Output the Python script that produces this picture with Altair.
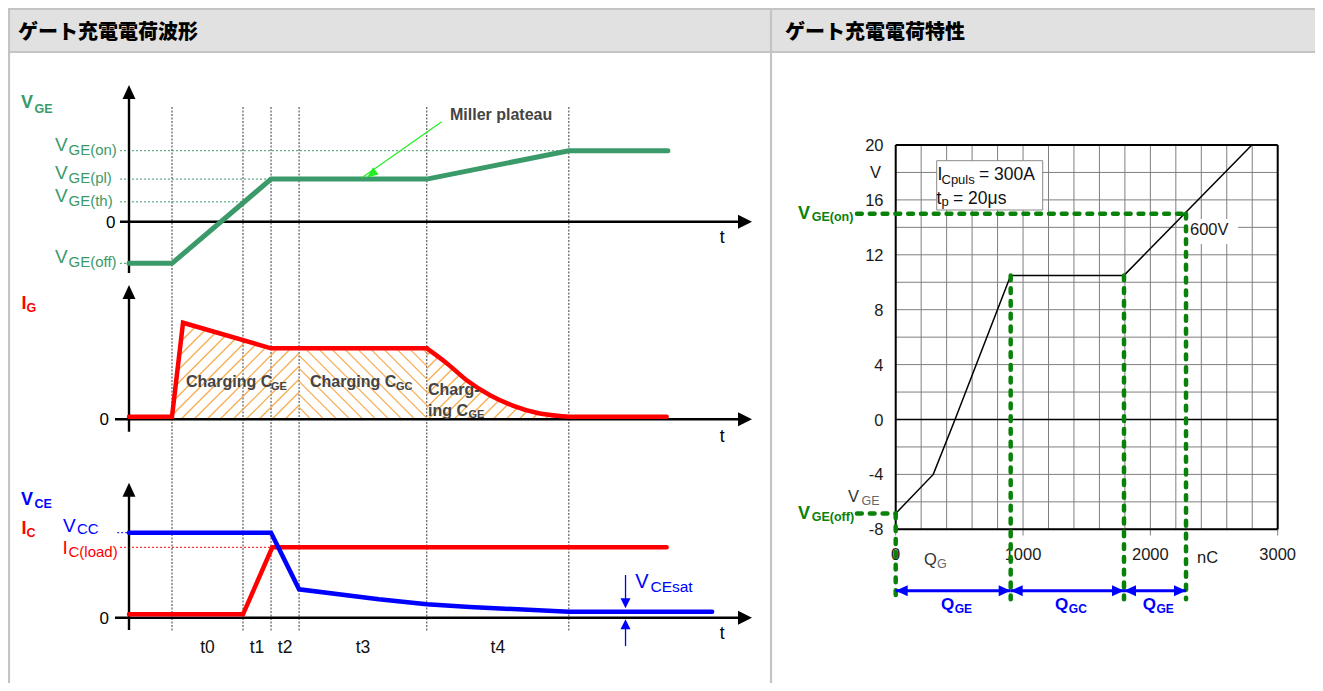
import math
import altair as alt
import numpy as np
import pandas as pd

# ---------------------------------------------------------------- data
TITLES = ["ゲート充電電荷波形", "ゲート充電電荷特性"]

# left: switching waveforms, time in arbitrary units (0 = origin, 100 = arrow tip)
T_MARKS = [6.9, 18.3, 22.8, 27.3, 47.8, 70.6]
T_NAMES = ["t0", "t1", "t2", "t3", "t4"]

VGE_LEVEL_NAMES = ["GE(on)", "GE(pl)", "GE(th)", "GE(off)"]
VGE_LEVEL_VALUES = [15.0, 9.0, 4.2, -8.8]
VGE_LEVEL_END_T = [70.6, 22.8, 18.3, 0.0]

VGE_T = [0, 6.9, 22.8, 47.8, 70.6, 86.5]
VGE_V = [-8.8, -8.8, 9.0, 9.0, 15.0, 15.0]

IG_T = [0, 6.9, 8.67, 22.8, 47.8]
IG_V = [0.035, 0.035, 1.36, 1.0, 1.0]
IG_DECAY_T = [47.8, 51.0, 54.2, 57.95, 61.7, 65.4, 69.2, 70.5, 86.3]
IG_DECAY_V = [1.0, 0.79, 0.55, 0.34, 0.19, 0.093, 0.046, 0.037, 0.037]
CHARGE_REGIONS = [(6.9, 27.3, 1), (27.3, 47.8, -1), (47.8, 70.5, 1)]

VCE_T = [0, 22.8, 27.3, 40.1, 47.8, 54.7, 61.6, 70.6, 93.6]
VCE_V = [1.0, 1.0, 0.334, 0.216, 0.158, 0.126, 0.102, 0.071, 0.071]
IC_T = [0, 18.3, 23.0, 86.3]
IC_V = [0.04, 0.04, 0.828, 0.828]
VCC_LEVEL = 1.0
IC_LOAD = 0.828
VCESAT_T = 79.7

# right: gate charge characteristic
Q_GRID = list(range(0, 3001, 200))
V_GRID = list(range(-8, 21, 2))
Q_TICKS = [0, 1000, 2000, 3000]
V_TICKS = [20, 16, 12, 8, 4, 0, -4, -8]
CURVE_Q = [0, 295, 466, 903, 1793, 2797]
CURVE_V = [-6.85, -4.0, 0.0, 10.5, 10.5, 20.0]
VGE_ON = 15.0
VGE_OFF = -6.85
Q_BOUNDS = [0, 903, 1793, 2280]
Q_BOUND_TOP = [VGE_OFF, 10.5, 10.5, VGE_ON]
Q_SEG_NAMES = ["GE", "GC", "GE"]

# ---------------------------------------------------------------- layout
M = 8
W, H = 1307, 675
SANS = "Liberation Sans"
CJK = "Noto Sans CJK JP"
GREEN = "#3b9a69"
DKGREEN = "#0a820a"
RED = "#ff0000"
BLUE = "#0000ff"
GRAYTXT = "#444444"
HATCH = "#f6a33f"


def sc(d0, d1, p0, p1):
    return alt.Scale(domain=[d0, d1], range=[p0 - M, p1 - M], nice=False, zero=False)


PX = sc(0, 1323, 0, 1323)
PY = sc(0, 691, 0, 691)
TX = sc(0, 100, 129, 752)
Y_VGE = sc(0, 15, 221.7, 150.7)
Y_IG = sc(0, 1, 419.3, 348.3)
Y_VCE = sc(0, 1, 617.7, 532.7)
QX = sc(0, 3000, 895.7, 1277.7)
VY = sc(-8, 20, 529.3, 145)
PX_PER_T = (752 - 129) / 100
PX_PER_IG = 419.3 - 348.3


def X(f, s):
    return alt.X(f, type="quantitative", scale=s, axis=None)


def Y(f, s):
    return alt.Y(f, type="quantitative", scale=s, axis=None)


def segs(x, y, x2, y2, xs, ys, **mk):
    df = pd.DataFrame({"x": x, "y": y, "x2": x2, "y2": y2})
    return alt.Chart(df).mark_rule(**mk).encode(
        x=X("x", xs), y=Y("y", ys), x2=alt.X2("x2"), y2=alt.Y2("y2"))


def rect(x, x2, y, y2, xs, ys, **mk):
    df = pd.DataFrame({"x": x, "y": y, "x2": x2, "y2": y2})
    return alt.Chart(df).mark_rect(**mk).encode(
        x=X("x", xs), y=Y("y", ys), x2=alt.X2("x2"), y2=alt.Y2("y2"))


def poly(x, y, xs, ys, **mk):
    df = pd.DataFrame({"x": x, "y": y, "i": list(range(len(x)))})
    return alt.Chart(df).mark_line(**mk).encode(
        x=X("x", xs), y=Y("y", ys), order=alt.Order("i:Q"))


def heads(x, y, xs, ys, angle, length, color, half=0.46):
    df = pd.DataFrame({"x": x, "y": y})
    path = f"M0,0L{-half},1L{half},1Z"
    return alt.Chart(df).mark_point(
        shape=path, filled=True, size=(2 * length) ** 2, angle=angle,
        color=color, opacity=1, strokeWidth=0).encode(x=X("x", xs), y=Y("y", ys))


def txt(x, y, s, xs, ys, **mk):
    base = dict(font=SANS, align="left", baseline="alphabetic")
    base.update(mk)
    df = pd.DataFrame({"x": x, "y": y, "s": s})
    return alt.Chart(df).mark_text(**base).encode(
        x=X("x", xs), y=Y("y", ys), text=alt.Text("s:N"))


def hatch_segments():
    t_all = IG_T + IG_DECAY_T[1:]
    v_all = IG_V + IG_DECAY_V[1:]
    rows = []
    spacing = 13.0
    for a, b, d in CHARGE_REGIONS:
        ua, ub = a * PX_PER_T, b * PX_PER_T
        u = np.arange(ua, ub + 0.01, 0.25)
        top = np.interp(u / PX_PER_T, t_all, v_all) * PX_PER_IG - 1.0
        hmax = top.max()
        if d > 0:
            cs = np.arange(math.floor((ua - hmax) / spacing) * spacing, ub, spacing)
        else:
            cs = np.arange(math.floor(ua / spacing) * spacing, ub + hmax + spacing, spacing)
        for c in cs:
            h = d * (u - c)
            ok = (h >= 0) & (h <= top)
            if ok.sum() < 3:
                continue
            idx = np.where(ok)[0]
            runs = np.split(idx, np.where(np.diff(idx) != 1)[0] + 1)
            r = max(runs, key=len)
            i0, i1 = r[0], r[-1]
            if i1 - i0 < 4:
                continue
            rows.append((u[i0] / PX_PER_T, h[i0] / PX_PER_IG, u[i1] / PX_PER_T, h[i1] / PX_PER_IG))
    return rows


L = []

# ---------------------------------------------------------------- frame / headers
L.append(rect([9], [1323], [9], [52], PX, PY, color="#e1e1e1"))
L.append(segs([0, 0, 9, 771], [9, 52, 9, 9], [1323, 1323, 9, 771], [9, 52, 691, 691], PX, PY,
              color="#c4c4c4", strokeWidth=2.2))
L.append(txt([18, 785], [38.5, 38.5], TITLES, PX, PY, font=CJK, fontSize=20, fontWeight=900, color="#000000"))

# ---------------------------------------------------------------- left panel
L.append(segs(T_MARKS, [107] * 6, T_MARKS, [632] * 6, TX, PY, color="#3c3c3c", strokeWidth=1,
              strokeDash=[2, 1.5]))
L.append(segs([-1.45] * 4, VGE_LEVEL_VALUES, VGE_LEVEL_END_T, VGE_LEVEL_VALUES, TX, Y_VGE,
              color=GREEN, strokeWidth=1, strokeDash=[2, 2]))
L.append(segs([-1.9], [VCC_LEVEL], [0], [VCC_LEVEL], TX, Y_VCE, color=BLUE, strokeWidth=1, strokeDash=[2, 2]))
L.append(segs([-1.45], [IC_LOAD], [22.8], [IC_LOAD], TX, Y_VCE, color=RED, strokeWidth=1, strokeDash=[2, 2]))

hs = hatch_segments()
L.append(segs([r[0] for r in hs], [r[1] for r in hs], [r[2] for r in hs], [r[3] for r in hs], TX, Y_IG,
              color=HATCH, strokeWidth=1.3, opacity=0.9))

for ysc, x0, ybot, yline, ytip in [(Y_VGE, -1.45, -10.84, 26.0, 28.88),
                                   (Y_IG, -2.25, -0.175, 1.75, 1.89),
                                   (Y_VCE, -2.25, -0.145, 1.45, 1.588)]:
    L.append(segs([x0, 0], [0, ybot], [98, 0], [0, yline], TX, ysc, color="#000000", strokeWidth=2.4))
    L.append(heads([0], [ytip], TX, ysc, 0, 14, "#000000"))
    L.append(heads([100], [0], TX, ysc, 90, 14, "#000000", half=0.5))

L.append(poly(VGE_T, VGE_V, TX, Y_VGE, color=GREEN, strokeWidth=5, strokeCap="round"))
L.append(poly(IG_T, IG_V, TX, Y_IG, color=RED, strokeWidth=4.5, strokeCap="round"))
L.append(poly(IG_DECAY_T, IG_DECAY_V, TX, Y_IG, color=RED, strokeWidth=4.5, strokeCap="round",
              interpolate="monotone"))
L.append(poly(IC_T, IC_V, TX, Y_VCE, color=RED, strokeWidth=4.5, strokeCap="round"))
L.append(poly(VCE_T, VCE_V, TX, Y_VCE, color=BLUE, strokeWidth=4.5, strokeCap="round"))

# Miller plateau arrow
sx, sy, tx_, ty_ = 441.7, 121.7, 367.0, 177.5
ang = (math.degrees(math.atan2(tx_ - sx, -(ty_ - sy))) + 360) % 360
L.append(segs([sx], [sy], [tx_ + 6 * math.sin(math.radians(ang))], [ty_ - 0], PX, PY,
              color="#22ee22", strokeWidth=1.2))
L.append(heads([tx_], [ty_], PX, PY, ang, 11, "#22ee22", half=0.42))
L.append(txt([450], [120], ["Miller plateau"], PX, PY, fontSize=16, fontWeight="bold", color=GRAYTXT))

# VCEsat marker
L.append(segs([VCESAT_T, VCESAT_T], [0.502, -0.333], [VCESAT_T, VCESAT_T], [0.2, -0.1], TX, Y_VCE,
              color=BLUE, strokeWidth=1.3))
L.append(heads([VCESAT_T], [0.111], TX, Y_VCE, 180, 10, BLUE, half=0.5))
L.append(heads([VCESAT_T], [-0.019], TX, Y_VCE, 0, 10, BLUE, half=0.5))

# left labels
L.append(txt([21], [108.3], ["V"], PX, PY, fontSize=18, fontWeight="bold", color=GREEN))
L.append(txt([34.5], [112.7], ["GE"], PX, PY, fontSize=12.5, fontWeight="bold", color=GREEN))
L.append(txt([55] * 4, VGE_LEVEL_VALUES, ["V"] * 4, PX, Y_VGE, fontSize=19, color=GREEN))
L.append(txt([68.5] * 4, VGE_LEVEL_VALUES, VGE_LEVEL_NAMES, PX, Y_VGE, fontSize=15, dy=4, color=GREEN))
L.append(txt([21.5], [309.3], ["I"], PX, PY, fontSize=18, fontWeight="bold", color=RED))
L.append(txt([26.5], [312], ["G"], PX, PY, fontSize=12.5, fontWeight="bold", color=RED))
L.append(txt([21], [505], ["V"], PX, PY, fontSize=18, fontWeight="bold", color=BLUE))
L.append(txt([34.5], [508], ["CE"], PX, PY, fontSize=12.5, fontWeight="bold", color=BLUE))
L.append(txt([21.5], [534], ["I"], PX, PY, fontSize=18, fontWeight="bold", color=RED))
L.append(txt([26.5], [536.5], ["C"], PX, PY, fontSize=12.5, fontWeight="bold", color=RED))
L.append(txt([63], [VCC_LEVEL], ["V"], PX, Y_VCE, fontSize=19, dy=-1, color=BLUE))
L.append(txt([77], [VCC_LEVEL], ["CC"], PX, Y_VCE, fontSize=15, dy=1.5, color=BLUE))
L.append(txt([62.5], [IC_LOAD], ["I"], PX, Y_VCE, fontSize=19, dy=6.5, color=RED))
L.append(txt([68.5], [IC_LOAD], ["C(load)"], PX, Y_VCE, fontSize=15, dy=9.5, color=RED))
L.append(txt([VCESAT_T + 1.55], [0.35], ["V"], TX, Y_VCE, fontSize=20, dy=0, color=BLUE))
L.append(txt([VCESAT_T + 4.0], [0.35], ["CEsat"], TX, Y_VCE, fontSize=15.5, dy=4.4, color=BLUE))
L.append(txt([115.5], [0], ["0"], PX, Y_VGE, fontSize=17, dy=6, align="right", color="#000000"))
L.append(txt([109], [0], ["0"], PX, Y_IG, fontSize=17, dy=6, align="right", color="#000000"))
L.append(txt([109], [0], ["0"], PX, Y_VCE, fontSize=17, dy=6, align="right", color="#000000"))
for ysc, dyy in [(Y_VGE, 21.5), (Y_IG, 22.3), (Y_VCE, 21)]:
    L.append(txt([95.2], [0], ["t"], TX, ysc, fontSize=17.5, dy=dyy, align="center", color="#000000"))
mids = [(T_MARKS[i] + T_MARKS[i + 1]) / 2 for i in range(5)]
L.append(txt(mids, [653] * 5, T_NAMES, TX, PY, fontSize=17.5, align="center", color="#111111"))
L.append(txt([186, 310, 428, 428], [387.3, 387.3, 395, 416], ["Charging C", "Charging C", "Charg-", "ing C"],
             PX, PY, fontSize=16, fontWeight="bold", color=GRAYTXT))
L.append(txt([271, 396, 468.5], [389.5, 389.5, 418], ["GE", "GC", "GE"], PX, PY,
             fontSize=11, fontWeight="bold", color=GRAYTXT))

# ---------------------------------------------------------------- right panel
L.append(segs(Q_GRID, [-8] * len(Q_GRID), Q_GRID, [20] * len(Q_GRID), QX, VY, color="#7f7f7f", strokeWidth=1))
L.append(segs([0] * len(V_GRID), V_GRID, [3000] * len(V_GRID), V_GRID, QX, VY, color="#7f7f7f", strokeWidth=1))
L.append(segs(Q_TICKS, [-8] * 4, Q_TICKS, [-8.45] * 4, QX, VY, color="#7f7f7f", strokeWidth=1))
L.append(rect([936.7], [1042.7], [160.7], [210], PX, PY, fill="#ffffff", stroke="#8a8a8a", strokeWidth=1))
L.append(rect([1187], [1238], [219], [244], PX, PY, fill="#ffffff"))
L.append(segs([0, 0, 0, 3000], [-8, 20, -8, -8], [3000, 3000, 0, 3000], [-8, 20, 20, 20], QX, VY,
              color="#000000", strokeWidth=2))
L.append(segs([0], [0], [3000], [0], QX, VY, color="#000000", strokeWidth=1.6))
L.append(poly(CURVE_Q, CURVE_V, QX, VY, color="#000000", strokeWidth=1.5))

L.append(txt([883.5] * len(V_TICKS), V_TICKS, [str(v) for v in V_TICKS], PX, VY, fontSize=16.5,
             align="right", dy=6, color="#1a1a1a"))
L.append(txt([881], [18], ["V"], PX, VY, fontSize=16.5, align="right", dy=6, color="#1a1a1a"))
L.append(txt(Q_TICKS, [560] * 4, [str(q) for q in Q_TICKS], QX, PY, fontSize=16.5, align="center",
             color="#1a1a1a"))
L.append(txt([2450], [562.5], ["nC"], QX, PY, fontSize=16.5, align="center", color="#1a1a1a"))
L.append(txt([924], [564.5], ["Q"], PX, PY, fontSize=16.5, color="#333333"))
L.append(txt([937], [568], ["G"], PX, PY, fontSize=12.5, color="#666666"))
L.append(txt([848], [501.7], ["V"], PX, PY, fontSize=16.5, color="#333333"))
L.append(txt([861.5], [504.5], ["GE"], PX, PY, fontSize=12.5, color="#666666"))
L.append(txt([937.5, 936.5], [180, 203.5], ["I", "t"], PX, PY, fontSize=17.5, color="#111111"))
L.append(txt([941.5, 941.5], [183.5, 205.5], ["Cpuls", "p"], PX, PY, fontSize=13, color="#111111"))
L.append(txt([979, 953], [180, 203.5], ["= 300A", "= 20μs"], PX, PY, fontSize=17.5, color="#111111"))
L.append(txt([1190], [235], ["600V"], PX, PY, fontSize=16.5, color="#1a1a1a"))

L.append(segs([-304, -304], [VGE_ON, VGE_OFF], [2280, 0], [VGE_ON, VGE_OFF], QX, VY,
              color=DKGREEN, strokeWidth=4.5, strokeDash=[4.8, 8], strokeCap="round"))
L.append(segs(Q_BOUNDS, Q_BOUND_TOP, Q_BOUNDS, [-13.1] * 4, QX, VY,
              color=DKGREEN, strokeWidth=4.5, strokeDash=[4.8, 8], strokeCap="round"))
L.append(txt([798, 798], [VGE_ON, VGE_OFF], ["V", "V"], PX, VY, fontSize=18, fontWeight="bold", dy=5,
             color=DKGREEN))
L.append(txt([811.7, 811.7], [VGE_ON, VGE_OFF], ["GE(on)", "GE(off)"], PX, VY, fontSize=12.5,
             fontWeight="bold", dy=7.5, color=DKGREEN))

QA = -12.47
L.append(segs(Q_BOUNDS[:-1], [QA] * 3, Q_BOUNDS[1:], [QA] * 3, QX, VY, color=BLUE, strokeWidth=3))
L.append(heads(Q_BOUNDS[1:], [QA] * 3, QX, VY, 90, 12, BLUE, half=0.46))
L.append(heads(Q_BOUNDS[:-1], [QA] * 3, QX, VY, 270, 12, BLUE, half=0.46))
qmid = [(Q_BOUNDS[i] + Q_BOUNDS[i + 1]) / 2 for i in range(3)]
L.append(txt(qmid, [QA] * 3, ["Q"] * 3, QX, VY, fontSize=17, fontWeight="bold", align="right", dx=1,
             dy=19.5, color=BLUE))
L.append(txt(qmid, [QA] * 3, Q_SEG_NAMES, QX, VY, fontSize=12, fontWeight="bold", dx=1.5, dy=22,
             color=BLUE))

chart = alt.layer(*L).resolve_scale(x="independent", y="independent").properties(
    width=W, height=H, padding=0, autosize=alt.AutoSizeParams(type="none")
).configure_view(stroke=None)

chart.save("out.html", embed_options={"renderer": "svg", "actions": False})
